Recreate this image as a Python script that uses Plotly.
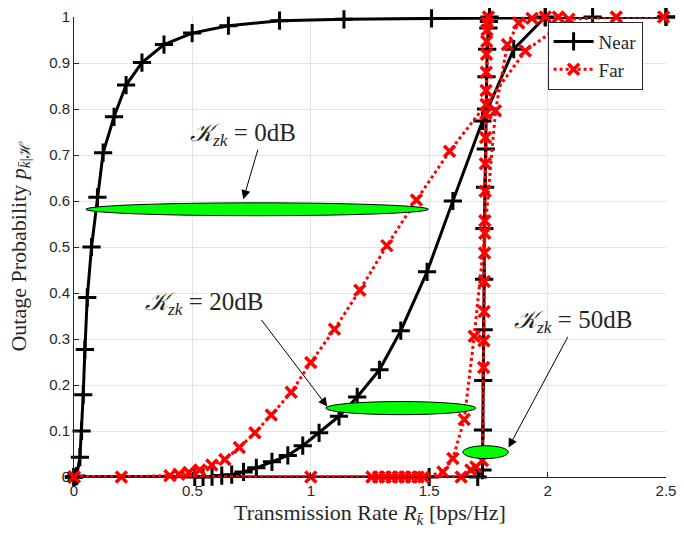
import plotly.graph_objects as go

# ---- data ----
near_0dB_x = [0.0, 0.011, 0.025, 0.032, 0.039, 0.046, 0.056, 0.074, 0.099, 0.123, 0.169, 0.22, 0.287, 0.38, 0.499, 0.652, 0.868, 1.14, 1.51, 1.99, 2.19, 2.5]
near_0dB_y = [0.0, 0.002, 0.043, 0.10, 0.179, 0.277, 0.39, 0.50, 0.608, 0.705, 0.783, 0.852, 0.901, 0.94, 0.965, 0.981, 0.992, 0.995, 0.997, 0.999, 1.0, 1.0]

far_0dB_x = [0.0, 0.2, 0.405, 0.443, 0.485, 0.531, 0.582, 0.637, 0.698, 0.764, 0.833, 0.917, 1.0, 1.10, 1.207, 1.321, 1.446, 1.586, 1.74, 1.906, 2.09, 2.29, 2.49]
far_0dB_y = [0.0, 0.0, 0.003, 0.006, 0.01, 0.015, 0.026, 0.038, 0.064, 0.096, 0.135, 0.184, 0.249, 0.321, 0.406, 0.503, 0.602, 0.708, 0.81, 0.926, 0.995, 1.0, 1.0]

near_20dB_x = [0.0, 0.51, 0.545, 0.583, 0.624, 0.666, 0.716, 0.77, 0.836, 0.903, 0.966, 1.035, 1.119, 1.196, 1.29, 1.38, 1.491, 1.60, 1.725, 1.857, 1.99]
near_20dB_y = [0.0, 0.0, 0.0, 0.001, 0.003, 0.005, 0.011, 0.02, 0.033, 0.047, 0.068, 0.096, 0.132, 0.174, 0.233, 0.318, 0.446, 0.60, 0.774, 0.93, 1.0]

far_20dB_x = [0.0, 1.258, 1.286, 1.314, 1.342, 1.37, 1.397, 1.425, 1.453, 1.476, 1.558, 1.60, 1.648, 1.69, 1.735, 1.78, 1.83, 1.878, 1.934, 1.99, 2.045]
far_20dB_y = [0.0, 0.0, 0.0, 0.0, 0.0, 0.0, 0.0, 0.0, 0.0, 0.0, 0.011, 0.04, 0.125, 0.306, 0.53, 0.796, 0.94, 0.987, 0.997, 1.0, 1.0]

near_50dB_x = [0.0, 1.50, 1.705, 1.725, 1.727, 1.728, 1.73, 1.732, 1.733, 1.736, 1.739, 1.74, 1.742, 1.745, 1.75, 1.752, 1.755, 2.5]
near_50dB_y = [0.0, 0.0, 0.0, 0.015, 0.102, 0.21, 0.32, 0.43, 0.54, 0.63, 0.713, 0.80, 0.87, 0.93, 0.976, 0.99, 1.0, 1.0]

far_50dB_x = [0.0, 1.0, 1.635, 1.676, 1.697, 1.725, 1.73, 1.731, 1.732, 1.733, 1.734, 1.735, 1.736, 1.737, 1.738, 1.739, 1.74, 1.741, 1.742, 1.743, 1.744, 1.745, 1.75]
far_50dB_y = [0.0, 0.0, 0.0, 0.015, 0.022, 0.036, 0.238, 0.296, 0.36, 0.425, 0.487, 0.557, 0.621, 0.681, 0.738, 0.79, 0.84, 0.88, 0.919, 0.947, 0.972, 0.987, 1.0]

x_ticks = [0, 0.5, 1, 1.5, 2, 2.5]
x_tick_labels = ["0", "0.5", "1", "1.5", "2", "2.5"]
y_ticks = [0, 0.1, 0.2, 0.3, 0.4, 0.5, 0.6, 0.7, 0.8, 0.9, 1]
y_tick_labels = ["0", "0.1", "0.2", "0.3", "0.4", "0.5", "0.6", "0.7", "0.8", "0.9", "1"]

# ellipses: (x0, x1, y0, y1)
ellipse_0dB = (0.050, 1.497, 0.568, 0.596)
ellipse_20dB = (1.063, 1.697, 0.1355, 0.164)
ellipse_50dB = (1.642, 1.834, 0.040, 0.068)

labels = ["0dB", "20dB", "50dB"]

fig = go.Figure()

near_style = dict(mode="lines+markers", line=dict(color="black", width=3),
                  marker=dict(symbol="cross-thin", size=13, line=dict(color="black", width=3)))
far_style = dict(mode="lines+markers", line=dict(color="#ff0000", width=3, dash="dot"),
                 marker=dict(symbol="x-thin", size=11, line=dict(color="#ff0000", width=3.5)))

for i, (xs, ys) in enumerate([(near_0dB_x, near_0dB_y), (near_20dB_x, near_20dB_y), (near_50dB_x, near_50dB_y)]):
    fig.add_trace(go.Scatter(x=xs, y=ys, name="Near", showlegend=(i == 0), cliponaxis=False, **near_style))
for i, (xs, ys) in enumerate([(far_0dB_x, far_0dB_y), (far_20dB_x, far_20dB_y), (far_50dB_x, far_50dB_y)]):
    fig.add_trace(go.Scatter(x=xs, y=ys, name="Far", showlegend=(i == 0), cliponaxis=False, **far_style))

for (x0, x1, y0, y1) in [ellipse_0dB, ellipse_20dB, ellipse_50dB]:
    fig.add_shape(type="circle", xref="x", yref="y", x0=x0, x1=x1, y0=y0, y1=y1,
                  fillcolor="#00ff00", line=dict(color="black", width=1), layer="above")

serif = "Liberation Serif"
ann_font = dict(family=serif, size=25, color="#262626")

def kz(lbl):
    return "<i>𝒦</i><sub><i>zk</i></sub> = " + lbl

# text labels
fig.add_annotation(x=0.715, y=0.745, text=kz(labels[0]), showarrow=False, font=ann_font)
fig.add_annotation(x=0.548, y=0.377, text=kz(labels[1]), showarrow=False, font=ann_font)
fig.add_annotation(x=2.107, y=0.338, text=kz(labels[2]), showarrow=False, font=ann_font)

# arrows
for (hx, hy, ax, ay) in [(0.715, 0.604, 15, -51), (1.070, 0.153, -67, -88), (1.835, 0.064, 60, -112)]:
    fig.add_annotation(x=hx, y=hy, ax=ax, ay=ay, text="", showarrow=True,
                       arrowhead=2, arrowsize=1.8, arrowwidth=1, arrowcolor="black")

# y-axis title as a rotated annotation (placed like the reference)
fig.add_annotation(xref="paper", yref="paper", x=-0.092, y=0.5, xanchor="center", yanchor="middle",
                   text="Outage Probability <i>p</i><sub><i>k̄</i>|ℋ</sub>", textangle=-90,
                   showarrow=False, font=dict(family=serif, size=22, color="#262626"))

axis_common = dict(showgrid=True, gridcolor="#e3e3e3", gridwidth=1, zeroline=False,
                   showline=True, linecolor="#262626", linewidth=1, ticks="inside",
                   ticklen=5, tickcolor="#262626", mirror=False, ticklabeloverflow="allow",
                   tickfont=dict(family="Liberation Sans", size=15, color="#262626"))

fig.update_layout(
    width=684, height=542,
    margin=dict(l=74, r=12, t=8, b=65),
    paper_bgcolor="white", plot_bgcolor="white",
    xaxis=dict(range=[0, 2.5], tickvals=x_ticks, ticktext=x_tick_labels,
               title=dict(text="Transmission Rate <i>R</i><sub><i>k̄</i></sub> [bps/Hz]",
                          font=dict(family=serif, size=22, color="#262626"), standoff=6),
               **axis_common),
    yaxis=dict(range=[0, 1], tickvals=y_ticks, ticktext=y_tick_labels, **axis_common),
    legend=dict(x=0.80, y=0.99, xanchor="left", yanchor="top",
                bgcolor="white", bordercolor="#262626", borderwidth=1,
                font=dict(family=serif, size=19, color="#262626"),
                tracegroupgap=0, itemwidth=40),
    showlegend=True,
)

fig.write_html("out.html")
